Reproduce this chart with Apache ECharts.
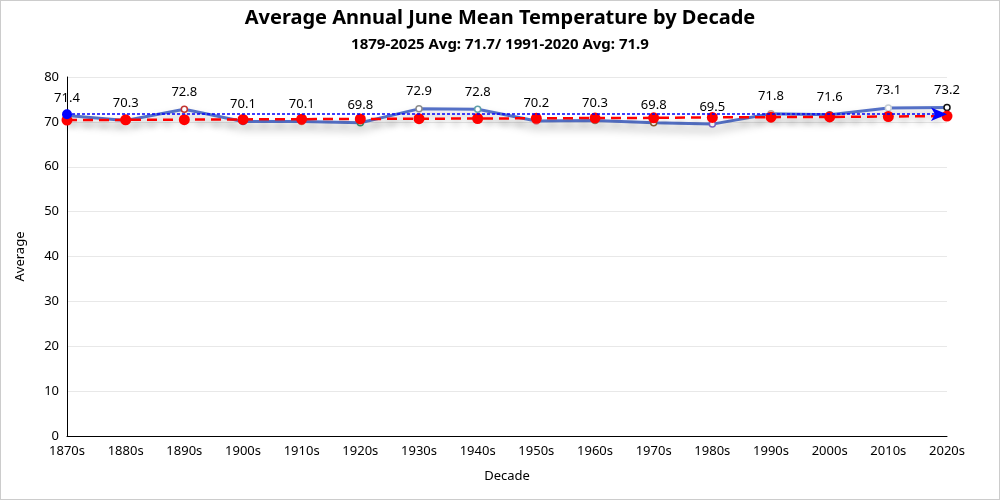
<!DOCTYPE html>
<html><head><meta charset="utf-8">
<script src="https://cdn.jsdelivr.net/npm/echarts@6/dist/echarts.min.js"></script>
<style>html,body{margin:0;padding:0;background:#fff}#c{width:998px;height:498px;border:1px solid #ccc}</style>
</head><body><div id="c"></div>
<script>
const decades = ['1870s','1880s','1890s','1900s','1910s','1920s','1930s','1940s','1950s','1960s','1970s','1980s','1990s','2000s','2010s','2020s'];
const averages = [71.4,70.3,72.8,70.1,70.1,69.8,72.9,72.8,70.2,70.3,69.8,69.5,71.8,71.6,73.1,73.2];
const trend = [70.4,70.45,70.5,70.55,70.6,70.65,70.7,70.75,70.8,70.85,70.9,71.0,71.05,71.1,71.2,71.3];
const pointColors = ['#2f4554','#5a9e3a','#c23531','#3f7fbf','#d48265','#3a8f6a','#8c8c8c','#61a0a8','#d98c9a','#749f83','#8a5a2b','#7b68c8','#bda29a','#6e7074','#c4ccd3','#111111'];
const refAvg = 71.7;
const title = 'Average Annual June Mean Temperature by Decade';
const subtitle = '1879-2025 Avg: 71.7/ 1991-2020 Avg: 71.9';

const chart = echarts.init(document.getElementById('c'));
const font = '"Noto Sans", "Open Sans", sans-serif';
chart.setOption({
  animation: false,
  textStyle: {fontFamily: font},
  title: {
    text: title, subtext: subtitle, left: 'center', top: 2, itemGap: 9,
    textStyle: {fontSize: 20, fontWeight: 'bold', color: '#000', fontFamily: font},
    subtextStyle: {fontSize: 15, fontWeight: 'bold', color: '#000', fontFamily: font}
  },
  grid: {left: 66, right: 52, top: 76, bottom: 63},
  xAxis: {
    type: 'category', data: decades, boundaryGap: false,
    name: 'Decade', nameLocation: 'middle', nameGap: 34,
    nameTextStyle: {color: '#000', fontSize: 13},
    axisLine: {lineStyle: {color: '#000'}},
    axisTick: {show: false},
    axisLabel: {color: '#000', fontSize: 13, margin: 9},
    splitLine: {show: false}
  },
  yAxis: {
    type: 'value', min: 0, max: 80, interval: 10,
    name: 'Average', nameLocation: 'middle', nameGap: 40,
    nameTextStyle: {color: '#000', fontSize: 13},
    axisLine: {show: true, lineStyle: {color: '#000'}},
    axisLabel: {color: '#000', fontSize: 13},
    splitLine: {lineStyle: {color: '#e8e8e8'}}
  },
  series: [
    {
      type: 'line', data: averages.map((v, i) => ({value: v, itemStyle: {color: '#fff', borderColor: pointColors[i], borderWidth: 1.5}})),
      symbol: 'circle', symbolSize: 6,
      lineStyle: {color: '#5470c6', width: 3, shadowColor: 'rgba(0,0,0,0.35)', shadowBlur: 8, shadowOffsetY: 6},
      label: {show: true, position: 'top', color: '#000', fontSize: 13, distance: 7},
      z: 3,
      markLine: {
        silent: true, symbol: ['circle', 'arrow'], symbolSize: [10, 16],
        lineStyle: {color: '#0000ff', type: [3, 2], width: 1.5},
        itemStyle: {color: '#0000ff'},
        label: {show: false},
        data: [{yAxis: refAvg}]
      }
    },
    {
      type: 'line', data: trend, symbol: 'circle', symbolSize: 11,
      itemStyle: {color: '#ff0000'},
      lineStyle: {color: '#ff0000', width: 2.5, type: [10, 6], shadowColor: 'rgba(0,0,0,0.25)', shadowBlur: 6, shadowOffsetY: 5},
      label: {show: false}, z: 4
    }
  ]
});
</script></body></html>
